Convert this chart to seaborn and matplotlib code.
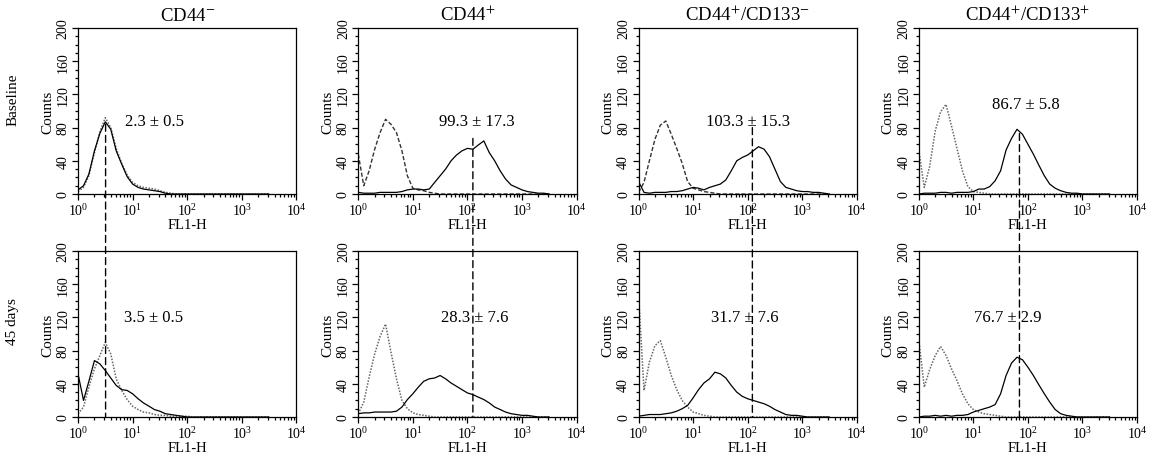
import matplotlib
matplotlib.use("Agg")
import matplotlib.pyplot as plt
from matplotlib.patches import ConnectionPatch
from matplotlib.ticker import MultipleLocator, LogLocator
import seaborn as sns

# FL1-H channel positions (shared by all histograms)
FL1_H = [1.00, 1.26, 1.58, 2.00, 2.51, 3.16, 3.98, 5.01, 6.31, 7.94,
         10.0, 12.6, 15.8, 20.0, 25.1, 31.6, 39.8, 50.1, 63.1, 79.4,
         100, 126, 158, 200, 251, 316, 398, 501, 631, 794,
         1000, 1259, 1585, 1995, 2512, 3162]

# baseline row: isotype control (dotted) and stained (solid) counts
CD44NEG_BASE_ISO = [3, 8, 22, 50, 75, 92, 80, 55, 37, 23, 14, 10, 8, 7, 6, 4, 2, 1,
                    0, 0, 0, 0, 0, 0, 0, 0, 0, 0, 0, 0, 0, 0, 0, 0, 0, 0]
CD44NEG_BASE_STAIN = [5, 10, 24, 52, 73, 87, 78, 52, 36, 21, 12, 8, 6, 5, 4, 3, 1, 0,
                      0, 0, 0, 0, 0, 0, 0, 0, 0, 0, 0, 0, 0, 0, 0, 0, 0, 0]
CD44POS_BASE_ISO = [48, 10, 28, 54, 74, 90, 84, 74, 52, 22, 7, 5, 4, 2, 1,
                    0, 0, 0, 0, 0, 0, 0, 0, 0, 0, 0, 0, 0, 0, 0, 0, 0, 0, 0, 0, 0]
CD44POS_BASE_STAIN = [2, 1, 1, 1, 2, 2, 2, 2, 3, 5, 6, 6, 5, 6, 14, 22, 30, 40,
                      47, 52, 55, 54, 59, 64, 50, 40, 28, 18, 11, 8, 5, 3, 2, 1, 1, 0]
CD133NEG_BASE_ISO = [2, 14, 40, 66, 83, 88, 72, 55, 37, 15, 7, 5, 3, 2, 1,
                     0, 0, 0, 0, 0, 0, 0, 0, 0, 0, 0, 0, 0, 0, 0, 0, 0, 0, 0, 0, 0]
CD133NEG_BASE_STAIN = [15, 2, 1, 2, 2, 2, 3, 3, 4, 6, 8, 7, 5, 8, 10, 12, 17, 28,
                       40, 44, 47, 52, 57, 54, 45, 30, 15, 8, 6, 4, 3, 3, 2, 2, 1, 0]
CD133POS_BASE_ISO = [53, 8, 33, 76, 99, 108, 82, 55, 28, 9, 3, 2, 1,
                     0, 0, 0, 0, 0, 0, 0, 0, 0, 0, 0, 0, 0, 0, 0, 0, 0, 0, 0, 0, 0, 0, 0]
CD133POS_BASE_STAIN = [0, 1, 1, 1, 2, 2, 1, 2, 2, 2, 3, 6, 6, 9, 16, 28, 53, 67,
                       78, 72, 60, 48, 35, 22, 12, 7, 4, 2, 1, 1, 0, 0, 0, 0, 0, 0]

# 45 days row
CD44NEG_D45_ISO = [4, 12, 36, 58, 74, 90, 76, 46, 32, 21, 13, 9, 6, 5, 3, 2, 2, 1,
                   1, 1, 1, 0, 0, 0, 0, 0, 0, 0, 0, 0, 0, 0, 0, 0, 0, 0]
CD44NEG_D45_STAIN = [52, 20, 43, 68, 64, 56, 47, 38, 33, 32, 28, 22, 17, 13, 9, 7, 4, 3,
                     2, 1, 0, 0, 0, 0, 0, 0, 0, 0, 0, 0, 0, 0, 0, 0, 0, 0]
CD44POS_D45_ISO = [4, 18, 48, 76, 97, 112, 78, 46, 20, 10, 5, 3, 2, 1,
                   0, 0, 0, 0, 0, 0, 0, 0, 0, 0, 0, 0, 0, 0, 0, 0, 0, 0, 0, 0, 0, 0]
CD44POS_D45_STAIN = [4, 5, 5, 6, 6, 6, 6, 7, 12, 21, 28, 36, 43, 46, 47, 50, 46, 41,
                     37, 33, 29, 27, 24, 21, 17, 12, 9, 6, 4, 3, 2, 2, 1, 0, 0, 0]
CD133NEG_D45_ISO = [148, 32, 66, 86, 92, 72, 50, 33, 20, 12, 6, 4, 2, 1,
                    0, 0, 0, 0, 0, 0, 0, 0, 0, 0, 0, 0, 0, 0, 0, 0, 0, 0, 0, 0, 0, 0]
CD133NEG_D45_STAIN = [1, 2, 3, 3, 3, 4, 5, 7, 10, 14, 23, 33, 41, 46, 54, 52, 47, 38,
                      30, 25, 22, 20, 18, 16, 13, 9, 6, 3, 2, 2, 1, 0, 0, 0, 0, 0]
CD133POS_D45_ISO = [93, 36, 57, 74, 85, 74, 58, 44, 28, 16, 9, 6, 4, 3, 2, 1,
                    0, 0, 0, 0, 0, 0, 0, 0, 0, 0, 0, 0, 0, 0, 0, 0, 0, 0, 0, 0]
CD133POS_D45_STAIN = [0, 1, 1, 2, 1, 2, 1, 2, 2, 3, 6, 8, 10, 12, 15, 28, 50, 65,
                      72, 69, 60, 50, 39, 28, 18, 9, 4, 2, 1, 0, 0, 0, 0, 0, 0, 0]

TITLES = ["CD44$^{-}$", "CD44$^{+}$", "CD44$^{+}$/CD133$^{-}$", "CD44$^{+}$/CD133$^{+}$"]
ROWS = ["Baseline", "45 days"]
BASE_LABELS = ["2.3 \u00b1 0.5", "99.3 \u00b1 17.3", "103.3 \u00b1 15.3", "86.7 \u00b1 5.8"]
D45_LABELS = ["3.5 \u00b1 0.5", "28.3 \u00b1 7.6", "31.7 \u00b1 7.6", "76.7 \u00b1 2.9"]
# median FL1-H marked by the dashed line, and the count where it starts in the top row
MEDIANS = [3.2, 126, 122, 70]
MEDIAN_TOP = [84, 67, 80, 73]

iso_rows = [[CD44NEG_BASE_ISO, CD44POS_BASE_ISO, CD133NEG_BASE_ISO, CD133POS_BASE_ISO],
            [CD44NEG_D45_ISO, CD44POS_D45_ISO, CD133NEG_D45_ISO, CD133POS_D45_ISO]]
stain_rows = [[CD44NEG_BASE_STAIN, CD44POS_BASE_STAIN, CD133NEG_BASE_STAIN, CD133POS_BASE_STAIN],
              [CD44NEG_D45_STAIN, CD44POS_D45_STAIN, CD133NEG_D45_STAIN, CD133POS_D45_STAIN]]
label_rows = [BASE_LABELS, D45_LABELS]

# styling / placement
iso_styles = [["dot", "dash", "dash", "dot"], ["dot", "dot", "dot", "dot"]]
text_pos = [[(7.3, 88, "left"), (150, 88, "center"), (100, 88, "center"), (90, 108, "center")],
            [(6.9, 120, "left"), (138, 121, "center"), (89, 121, "center"), (43, 120, "center")]]

sns.set_theme(style="ticks")
plt.rcParams["font.family"] = ["Liberation Serif", "DejaVu Serif"]
plt.rcParams["mathtext.fontset"] = "stix"
plt.rcParams["text.color"] = "black"
plt.rcParams["axes.labelcolor"] = "black"
plt.rcParams["xtick.color"] = "black"
plt.rcParams["ytick.color"] = "black"

fig, axes = plt.subplots(2, 4, figsize=(11.56, 4.64), dpi=100)
fig.subplots_adjust(left=0.0675, right=0.9836, top=0.9375, bottom=0.0991,
                    wspace=0.284, hspace=0.343)

for r in range(2):
    for c in range(4):
        ax = axes[r, c]
        if iso_styles[r][c] == "dash":
            sns.lineplot(x=FL1_H, y=iso_rows[r][c], ax=ax, color="#333333",
                         linewidth=1.0, linestyle=(0, (3, 1.5)), estimator=None, sort=False)
        else:
            sns.lineplot(x=FL1_H, y=iso_rows[r][c], ax=ax, color="#666666",
                         linewidth=1.1, linestyle=(0, (1, 1)), estimator=None, sort=False)
        sns.lineplot(x=FL1_H, y=stain_rows[r][c], ax=ax, color="black",
                     linewidth=0.9, estimator=None, sort=False)

        ax.set_xscale("log")
        ax.set_xlim(1, 1e4)
        ax.set_ylim(0, 200)
        ax.set_yticks([0, 40, 80, 120, 160, 200])
        ax.yaxis.set_minor_locator(MultipleLocator(10))
        ax.xaxis.set_major_locator(LogLocator(base=10, numticks=10))
        ax.xaxis.set_minor_locator(LogLocator(base=10, subs=range(2, 10), numticks=50))
        ax.tick_params(which="major", direction="out", length=4, width=0.9,
                       labelsize=10, pad=2, colors="black")
        ax.tick_params(which="minor", direction="out", length=2.5, width=0.9)
        for lab in ax.get_yticklabels():
            lab.set_rotation(90)
            lab.set_va("center")
        for sp in ax.spines.values():
            sp.set_color("black")
            sp.set_linewidth(0.9)
        ax.set_xlabel("FL1-H", fontsize=10.5, labelpad=0)
        ax.set_ylabel("Counts", fontsize=11, labelpad=2)

        tx, ty, ha = text_pos[r][c]
        ax.text(tx, ty, label_rows[r][c], fontsize=12, ha=ha, va="center", color="black")

        if r == 0:
            ax.set_title(TITLES[c], fontsize=13.5, pad=6, color="black")

for c in range(4):
    con = ConnectionPatch(xyA=(MEDIANS[c], MEDIAN_TOP[c]), coordsA="data", axesA=axes[0, c],
                          xyB=(MEDIANS[c], 0), coordsB="data", axesB=axes[1, c],
                          color="black", linewidth=1.0, linestyle=(0, (5, 3)))
    fig.add_artist(con)

fig.text(0.011, 0.784, ROWS[0], rotation=90, ha="center", va="center", fontsize=11)
fig.text(0.011, 0.306, ROWS[1], rotation=90, ha="center", va="center", fontsize=11)

fig.savefig("out.png", dpi=100)
